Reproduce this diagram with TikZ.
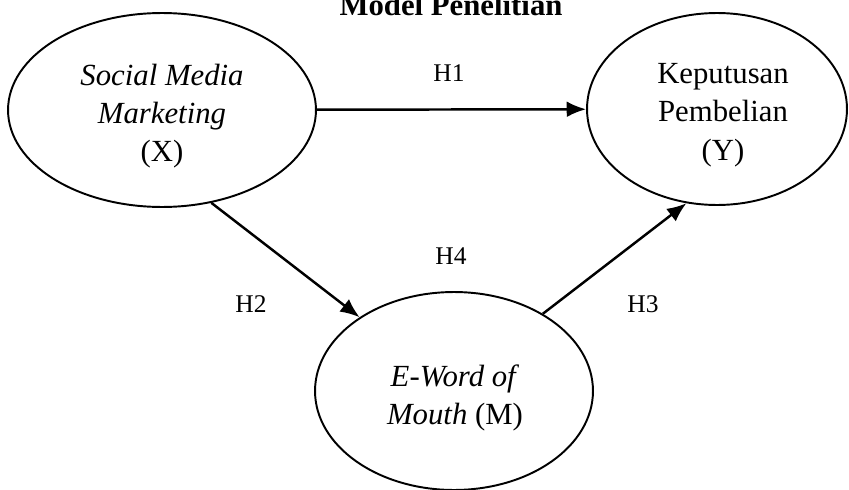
\documentclass[tikz,border=0pt]{standalone}
\usepackage{fontspec}
\setmainfont{Liberation Serif}
\usetikzlibrary{shapes.geometric,arrows.meta,positioning}

\begin{document}
\begin{tikzpicture}[x=0.02cm, y=-0.02cm,
    var/.style={draw, ellipse, line width=1.1pt, inner sep=0pt},
    vartext/.style={align=center, font=\fontsize{17.5}{21.8}\selectfont},
    hyp/.style={font=\fontsize{14.5}{17}\selectfont},
    effect/.style={-{Latex[length=11pt,width=9pt]}, line width=1.4pt}]
            \useasboundingbox (0,0) rectangle (849,490);

            % Title
            \node[anchor=base, font=\fontsize{17.5}{20}\selectfont\bfseries] (title) at (451,15) {Model Penelitian};

            % Variables
            \node[var, minimum width=6.16cm, minimum height=3.88cm] (X) at (162,110) {};
            \node[vartext] (Xtext) at (162,116) {\textit{Social Media}\\\textit{Marketing}\\(X)};

            \node[var, minimum width=5.2cm, minimum height=3.84cm] (Y) at (717,109) {};
            \node[vartext] (Ytext) at (723,115) {Keputusan\\Pembelian\\(Y)};

            \node[var, minimum width=5.56cm, minimum height=3.96cm] (M) at (454,391) {};
            \node[vartext] (Mtext) at (455,398) {\textit{E-Word of}\\\textit{Mouth} (M)};

            % Hypotheses
            \draw[effect] (X) -- (Y);
            \draw[effect] (X.-62) -- (M.142);
            \draw[effect] (M.41) -- (Y.252);

            \node[hyp] (H1) at (449,73) {H1};
            \node[hyp] (H2) at (251,304) {H2};
            \node[hyp] (H3) at (643,304) {H3};
            \node[hyp] (H4) at (451,256) {H4};
        \end{tikzpicture}
\end{document}
